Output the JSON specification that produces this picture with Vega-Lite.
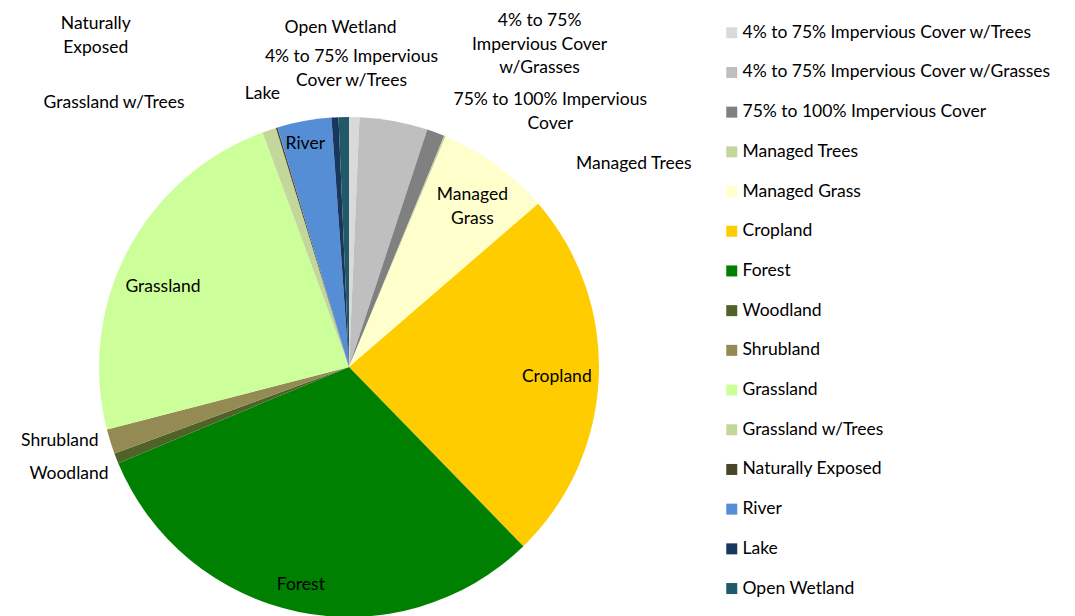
{
  "$schema": "https://vega.github.io/schema/vega-lite/v6.json",
  "autosize": {"type": "none"},
  "width": 500,
  "height": 496,
  "padding": {"left": 99, "top": 119, "right": 476, "bottom": 1},
  "background": "white",
  "config": {"view": {"stroke": null}, "font": "Lato", "legend": {"rowPadding": 20.7}, "text": {"font": "Lato", "fontSize": 17.5, "lineHeight": 23.5, "lineBreak": "\n", "color": "#000000"}},
  "data": {"values": [
    {"idx": 1, "cat": "4% to 75% Impervious Cover w/Trees", "share": 0.67, "label": "4% to 75% Impervious\nCover w/Trees"},
    {"idx": 2, "cat": "4% to 75% Impervious Cover w/Grasses", "share": 4.4, "label": "4% to 75%\nImpervious Cover\nw/Grasses"},
    {"idx": 3, "cat": "75% to 100% Impervious Cover", "share": 1.15, "label": "75% to 100% Impervious\nCover"},
    {"idx": 4, "cat": "Managed Trees", "share": 0.1, "label": "Managed Trees"},
    {"idx": 5, "cat": "Managed Grass", "share": 7.35, "label": "Managed\nGrass"},
    {"idx": 6, "cat": "Cropland", "share": 24.05, "label": "Cropland"},
    {"idx": 7, "cat": "Forest", "share": 31.0, "label": "Forest"},
    {"idx": 8, "cat": "Woodland", "share": 0.67, "label": "Woodland"},
    {"idx": 9, "cat": "Shrubland", "share": 1.6, "label": "Shrubland"},
    {"idx": 10, "cat": "Grassland", "share": 23.4, "label": "Grassland"},
    {"idx": 11, "cat": "Grassland w/Trees", "share": 0.9, "label": "Grassland w/Trees"},
    {"idx": 12, "cat": "Naturally Exposed", "share": 0.1, "label": "Naturally\nExposed"},
    {"idx": 13, "cat": "River", "share": 3.5, "label": "River"},
    {"idx": 14, "cat": "Lake", "share": 0.45, "label": "Lake"},
    {"idx": 15, "cat": "Open Wetland", "share": 0.67, "label": "Open Wetland"}
  ]},
  "encoding": {
    "theta": {"field": "share", "type": "quantitative", "stack": true},
    "order": {"field": "idx", "type": "quantitative"},
    "detail": {"field": "cat", "type": "nominal"}
  },
  "layer": [
    {
      "mark": {"type": "arc", "radius": 250},
      "encoding": {
        "color": {
          "field": "cat", "type": "nominal",
          "scale": {
            "domain": ["4% to 75% Impervious Cover w/Trees", "4% to 75% Impervious Cover w/Grasses", "75% to 100% Impervious Cover", "Managed Trees", "Managed Grass", "Cropland", "Forest", "Woodland", "Shrubland", "Grassland", "Grassland w/Trees", "Naturally Exposed", "River", "Lake", "Open Wetland"],
            "range": ["#D9D9D9", "#BFBFBF", "#808080", "#C4D79B", "#FFFFCC", "#FFCC00", "#008000", "#4F6228", "#948A54", "#CCFF99", "#C4D79B", "#4A452A", "#558ED5", "#17375E", "#215968"]
          },
          "legend": {
            "title": null, "orient": "none", "legendX": 624, "legendY": -95,
            "symbolType": "square", "symbolSize": 121, "symbolStrokeWidth": 0,
            "labelFont": "Lato", "labelFontSize": 17.5, "labelColor": "#000000",
            "labelOffset": 2, "rowPadding": 20.7, "labelLimit": 400
          }
        }
      }
    },
    {"mark": {"type": "text", "radius": 260, "dx": -3, "dy": -79},
     "encoding": {"text": {"condition": {"test": "datum.idx === 15", "field": "label"}, "value": ""}}},
    {"mark": {"type": "text", "radius": 260, "dx": -3, "dy": -50},
     "encoding": {"text": {"condition": {"test": "datum.idx === 1", "field": "label"}, "value": ""}}},
    {"mark": {"type": "text", "radius": 260, "dx": 144, "dy": -90},
     "encoding": {"text": {"condition": {"test": "datum.idx === 2", "field": "label"}, "value": ""}}},
    {"mark": {"type": "text", "radius": 260, "dx": 111, "dy": -23},
     "encoding": {"text": {"condition": {"test": "datum.idx === 3", "field": "label"}, "value": ""}}},
    {"mark": {"type": "text", "radius": 260, "dx": 185, "dy": 37},
     "encoding": {"text": {"condition": {"test": "datum.idx === 4", "field": "label"}, "value": ""}}},
    {"mark": {"type": "text", "radius": 205, "dx": 3, "dy": -6},
     "encoding": {"text": {"condition": {"test": "datum.idx === 5", "field": "label"}, "value": ""}}},
    {"mark": {"type": "text", "radius": 208, "dx": 0, "dy": 1},
     "encoding": {"text": {"condition": {"test": "datum.idx === 6", "field": "label"}, "value": ""}}},
    {"mark": {"type": "text", "radius": 220, "dx": -4, "dy": 2},
     "encoding": {"text": {"condition": {"test": "datum.idx === 7", "field": "label"}, "value": ""}}},
    {"mark": {"type": "text", "radius": 260, "dx": -38, "dy": 12},
     "encoding": {"text": {"condition": {"test": "datum.idx === 8", "field": "label"}, "value": ""}}},
    {"mark": {"type": "text", "radius": 260, "dx": -41, "dy": -3},
     "encoding": {"text": {"condition": {"test": "datum.idx === 9", "field": "label"}, "value": ""}}},
    {"mark": {"type": "text", "radius": 210, "dx": 0, "dy": 17},
     "encoding": {"text": {"condition": {"test": "datum.idx === 10", "field": "label"}, "value": ""}}},
    {"mark": {"type": "text", "radius": 260, "dx": -152, "dy": -18},
     "encoding": {"text": {"condition": {"test": "datum.idx === 11", "field": "label"}, "value": ""}}},
    {"mark": {"type": "text", "radius": 260, "dx": -178, "dy": -94},
     "encoding": {"text": {"condition": {"test": "datum.idx === 12", "field": "label"}, "value": ""}}},
    {"mark": {"type": "text", "radius": 227, "dx": -3, "dy": 0},
     "encoding": {"text": {"condition": {"test": "datum.idx === 13", "field": "label"}, "value": ""}}},
    {"mark": {"type": "text", "radius": 260, "dx": -72, "dy": -13},
     "encoding": {"text": {"condition": {"test": "datum.idx === 14", "field": "label"}, "value": ""}}}
  ]
}
